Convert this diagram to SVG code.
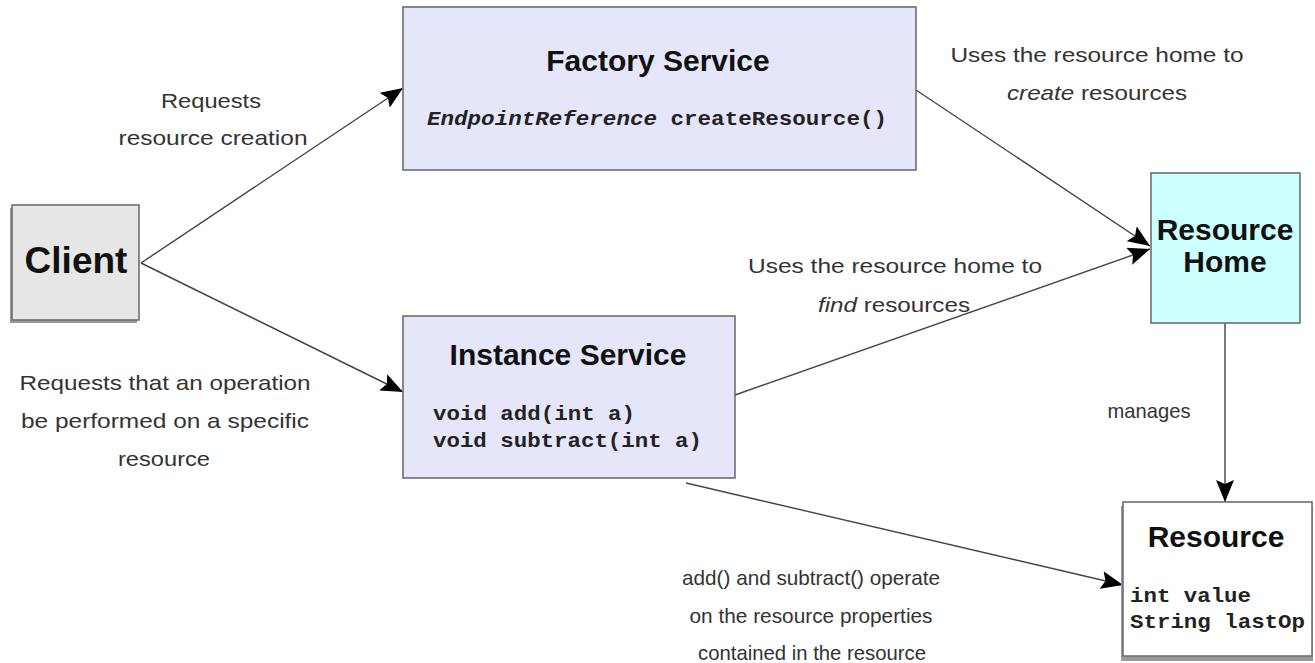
<svg xmlns="http://www.w3.org/2000/svg" width="1315" height="663" viewBox="0 0 1315 663">
<style>
.box{stroke:#6e6e6e;stroke-width:1.6}
.shadow{fill:#9a9a9a}
.title{font-family:"Liberation Sans",Arial,sans-serif;font-weight:bold;fill:#111;text-anchor:middle}
.code{font-family:"Liberation Mono","Courier New",monospace;font-weight:bold;font-size:21px;fill:#222}
.lbl{font-family:"Liberation Sans",Arial,sans-serif;font-size:21px;fill:#333;text-anchor:middle}
.conn{stroke:#444;stroke-width:1.4;fill:none;marker-end:url(#arr)}
</style>
<defs>
<marker id="arr" markerUnits="userSpaceOnUse" markerWidth="24" markerHeight="18" refX="22" refY="9" orient="auto">
<path d="M0,0 L22,9 L0,18 L4,9 z" fill="#000"/>
</marker>
</defs>
<rect width="1315" height="663" fill="#fff"/>
<g id="connectors">
<line class="conn" x1="141" y1="263" x2="403" y2="88"/>
<line class="conn" x1="141" y1="263" x2="403" y2="392"/>
<line class="conn" x1="916" y1="90" x2="1150" y2="246"/>
<line class="conn" x1="735" y1="395" x2="1150" y2="249"/>
<line class="conn" x1="1225" y1="323" x2="1225" y2="502"/>
<line class="conn" x1="686" y1="483" x2="1123" y2="585"/>
</g>
<g id="client">
<rect class="shadow" x="10" y="208" width="127" height="115"/>
<rect class="box" x="12" y="205" width="127" height="115" fill="#e6e6e6"/>
<text class="title" x="76" y="273" font-size="37">Client</text>
</g>
<g id="factory">
<rect class="box" x="403" y="7" width="513" height="163" fill="#e6e6fb"/>
<text class="title" x="658" y="71" font-size="30">Factory Service</text>
<text class="code" x="427" y="125" textLength="460" lengthAdjust="spacingAndGlyphs"><tspan font-style="italic">EndpointReference</tspan> createResource()</text>
</g>
<g id="instance">
<rect class="box" x="403" y="316" width="332" height="162" fill="#e6e6fb"/>
<text class="title" x="568" y="365" font-size="30">Instance Service</text>
<text class="code" x="433" y="420" textLength="202" lengthAdjust="spacingAndGlyphs">void add(int a)</text>
<text class="code" x="433" y="447" textLength="269" lengthAdjust="spacingAndGlyphs">void subtract(int a)</text>
</g>
<g id="resource-home">
<rect class="box" x="1151" y="173" width="149" height="150" fill="#ccffff"/>
<text class="title" x="1225" y="240" font-size="30">Resource</text>
<text class="title" x="1225" y="272" font-size="30">Home</text>
</g>
<g id="resource">
<rect class="shadow" x="1121" y="506" width="192" height="155"/>
<rect class="box" x="1123" y="502" width="189" height="154" fill="#fff"/>
<text class="title" x="1216" y="547" font-size="30">Resource</text>
<text class="code" x="1130" y="602" textLength="121" lengthAdjust="spacingAndGlyphs">int value</text>
<text class="code" x="1130" y="628" textLength="175" lengthAdjust="spacingAndGlyphs">String lastOp</text>
</g>
<g id="labels">
<text class="lbl" x="211" y="108" textLength="100" lengthAdjust="spacingAndGlyphs">Requests</text>
<text class="lbl" x="213" y="145" textLength="189" lengthAdjust="spacingAndGlyphs">resource creation</text>
<text class="lbl" x="165" y="390" textLength="291" lengthAdjust="spacingAndGlyphs">Requests that an operation</text>
<text class="lbl" x="165" y="428" textLength="288" lengthAdjust="spacingAndGlyphs">be performed on a specific</text>
<text class="lbl" x="164" y="466" textLength="92" lengthAdjust="spacingAndGlyphs">resource</text>
<text class="lbl" x="1097" y="62" textLength="293" lengthAdjust="spacingAndGlyphs">Uses the resource home to</text>
<text class="lbl" x="1097" y="100" textLength="180" lengthAdjust="spacingAndGlyphs"><tspan font-style="italic">create</tspan> resources</text>
<text class="lbl" x="895" y="273" textLength="294" lengthAdjust="spacingAndGlyphs">Uses the resource home to</text>
<text class="lbl" x="894" y="312" textLength="152" lengthAdjust="spacingAndGlyphs"><tspan font-style="italic">find</tspan> resources</text>
<text class="lbl" x="1149" y="418" textLength="83" lengthAdjust="spacingAndGlyphs">manages</text>
<text class="lbl" x="811" y="585" textLength="258" lengthAdjust="spacingAndGlyphs">add() and subtract() operate</text>
<text class="lbl" x="811" y="623" textLength="243" lengthAdjust="spacingAndGlyphs">on the resource properties</text>
<text class="lbl" x="812" y="660" textLength="228" lengthAdjust="spacingAndGlyphs">contained in the resource</text>
</g>
</svg>
